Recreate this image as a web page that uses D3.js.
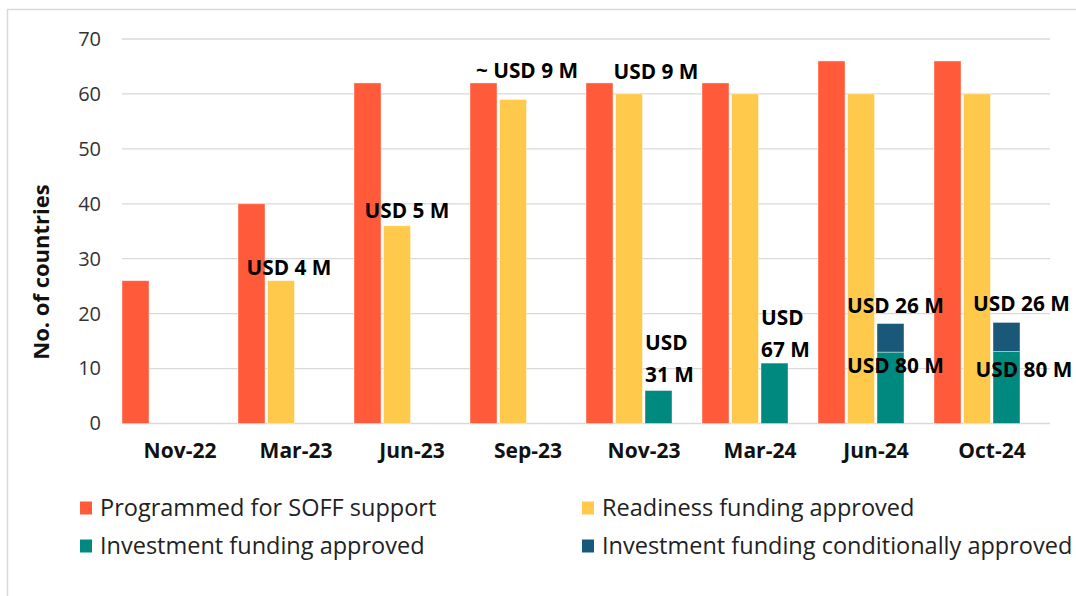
<html>
    <head>
        <script src="https://d3js.org/d3.v7.min.js"></script>
        <style>
            body { margin: 0; background: #fff; }
            text { font-family: "Open Sans", "Noto Sans", sans-serif; }
        </style>
    </head>
    <body>
        <svg id="svg" width="1076" height="596"></svg>
        <script>
            // chart data
            var categories = ["Nov-22", "Mar-23", "Jun-23", "Sep-23", "Nov-23", "Mar-24", "Jun-24", "Oct-24"];
            var programmed = [26, 40, 62, 62, 62, 62, 66, 66];
            var readiness = [0, 26, 36, 59, 60, 60, 60, 60];
            var investment = [0, 0, 0, 0, 6, 11, 13, 13.1];
            var conditional = [0, 0, 0, 0, 0, 0, 5.2, 5.3];
            var yTicks = [0, 10, 20, 30, 40, 50, 60, 70];
            var seriesNames = ["Programmed for SOFF support", "Readiness funding approved",
                               "Investment funding approved", "Investment funding conditionally approved"];
            var labelTexts = [["USD 4 M"], ["USD 5 M"], ["~ USD 9 M"], ["USD 9 M"],
                              ["USD", "31 M"], ["USD", "67 M"],
                              ["USD 26 M"], ["USD 80 M"], ["USD 26 M"], ["USD 80 M"]];

            // where each label sits (category, bar slot, pixel shift, baseline in axis units)
            var labelPlace = [
                {cat: "Mar-23", slot: 1, dx: 8, y: [27.0], anchor: "middle"},
                {cat: "Jun-23", slot: 1, dx: 10, y: [37.4], anchor: "middle"},
                {cat: "Sep-23", slot: 1, dx: 14, y: [62.9], anchor: "middle"},
                {cat: "Nov-23", slot: 1, dx: 27, y: [62.7], anchor: "middle"},
                {cat: "Nov-23", slot: 2, dx: 0, y: [13.4, 7.6], anchor: "start"},
                {cat: "Mar-24", slot: 2, dx: 0, y: [17.9, 12.1], anchor: "start"},
                {cat: "Jun-24", slot: 2, dx: 5, y: [20.1], anchor: "middle"},
                {cat: "Jun-24", slot: 2, dx: 5, y: [9.2], anchor: "middle"},
                {cat: "Oct-24", slot: 2, dx: 15, y: [20.4], anchor: "middle"},
                {cat: "Oct-24", slot: 2, dx: 17.5, y: [8.5], anchor: "middle"}
            ];

            var colors = ["#FF5A3A", "#FFC94B", "#00897F", "#1A587A"];

            var svg = d3.select("svg");
            var plotLeft = 122, plotRight = 1050, plotTop = 39, plotBottom = 423.5;

            // frame around the figure
            svg.append("rect").attr("x", 7.5).attr("y", 9.5).attr("width", 1200).attr("height", 800)
               .attr("fill", "none").attr("stroke", "#d9d9d9").attr("stroke-width", 1.5);

            var y = d3.scaleLinear().domain([0, 70]).range([plotBottom, plotTop]);
            var pad = 30 / 116;
            var x0 = d3.scaleBand().domain(categories).range([plotLeft, plotRight])
                       .paddingInner(pad).paddingOuter(pad / 2).align(0);
            var x1 = d3.scaleBand().domain([0, 1, 2]).range([0, x0.bandwidth()]).paddingInner(0.085);

            // grid
            var grid = svg.append("g");
            grid.selectAll("line").data(yTicks).enter().append("line")
                .attr("x1", plotLeft).attr("x2", plotRight)
                .attr("y1", function(d){ return y(d); }).attr("y2", function(d){ return y(d); })
                .attr("stroke", "#d9d9d9").attr("stroke-width", 1.3);

            var yAxis = svg.append("g").attr("transform", "translate(" + plotLeft + ",0)")
                .call(d3.axisLeft(y).tickValues(yTicks).tickSize(0).tickPadding(21));
            yAxis.select(".domain").remove();
            yAxis.selectAll("text").attr("font-size", 20).attr("fill", "#333")
                 .style("font-family", "'Open Sans', sans-serif");

            var step = x0.step();
            var xAxis = svg.append("g").attr("transform", "translate(0," + plotBottom + ")")
                .call(d3.axisBottom(x0).tickSize(0).tickPadding(20));
            xAxis.select(".domain").remove();
            xAxis.selectAll(".tick").attr("transform", function(d){
                return "translate(" + (x0(d) + step / 2) + ",0)";
            });
            xAxis.selectAll("text").attr("font-size", 21).attr("font-weight", "bold").attr("fill", "#111")
                 .style("font-family", "'Open Sans', sans-serif");

            // bars
            var bars = svg.append("g");
            function drawBars(vals, base, slot, color) {
                bars.selectAll(null).data(categories).enter().append("rect")
                    .filter(function(d, i){ return vals[i] > 0; })
                    .attr("x", function(d){ return x0(d) + x1(slot); })
                    .attr("width", x1.bandwidth())
                    .attr("y", function(d){ var i = categories.indexOf(d); return y(base[i] + vals[i]); })
                    .attr("height", function(d){ var i = categories.indexOf(d); return y(base[i]) - y(base[i] + vals[i]); })
                    .attr("fill", color)
                    .attr("stroke", "#fff").attr("stroke-opacity", 0.5).attr("stroke-width", 0.8);
            }
            var zeros = categories.map(function(){ return 0; });
            drawBars(programmed, zeros, 0, colors[0]);
            drawBars(readiness, zeros, 1, colors[1]);
            drawBars(investment, zeros, 2, colors[2]);
            drawBars(conditional, investment, 2, colors[3]);

            // value labels
            var labels = svg.append("g");
            labelPlace.forEach(function(p, k){
                var bx = x0(p.cat) + x1(p.slot);
                var tx = p.anchor == "start" ? bx + p.dx : bx + x1.bandwidth() / 2 + p.dx;
                labelTexts[k].forEach(function(t, j){
                    labels.append("text").attr("x", tx).attr("y", y(p.y[j]))
                          .attr("text-anchor", p.anchor).attr("font-size", 20.8)
                          .attr("font-weight", "bold").attr("fill", "#000").text(t);
                });
            });

            // y title
            svg.append("text").attr("transform", "translate(49,272) rotate(-90)")
               .attr("text-anchor", "middle").attr("font-size", 22).attr("font-weight", "bold")
               .attr("fill", "#111").text("No. of countries");

            // legend
            var legend = svg.append("g");
            var legX = [80, 582], legY = [508, 546];
            seriesNames.forEach(function(name, i){
                var gx = legX[i % 2], gy = legY[Math.floor(i / 2)];
                legend.append("rect").attr("x", gx).attr("y", gy - 6.5).attr("width", 12).attr("height", 13)
                      .attr("fill", colors[i]);
                legend.append("text").attr("x", gx + 20).attr("y", gy).attr("dy", "0.35em")
                      .attr("font-size", 23.5).attr("fill", "#222").text(name);
            });
        </script>
    </body>
</html>
